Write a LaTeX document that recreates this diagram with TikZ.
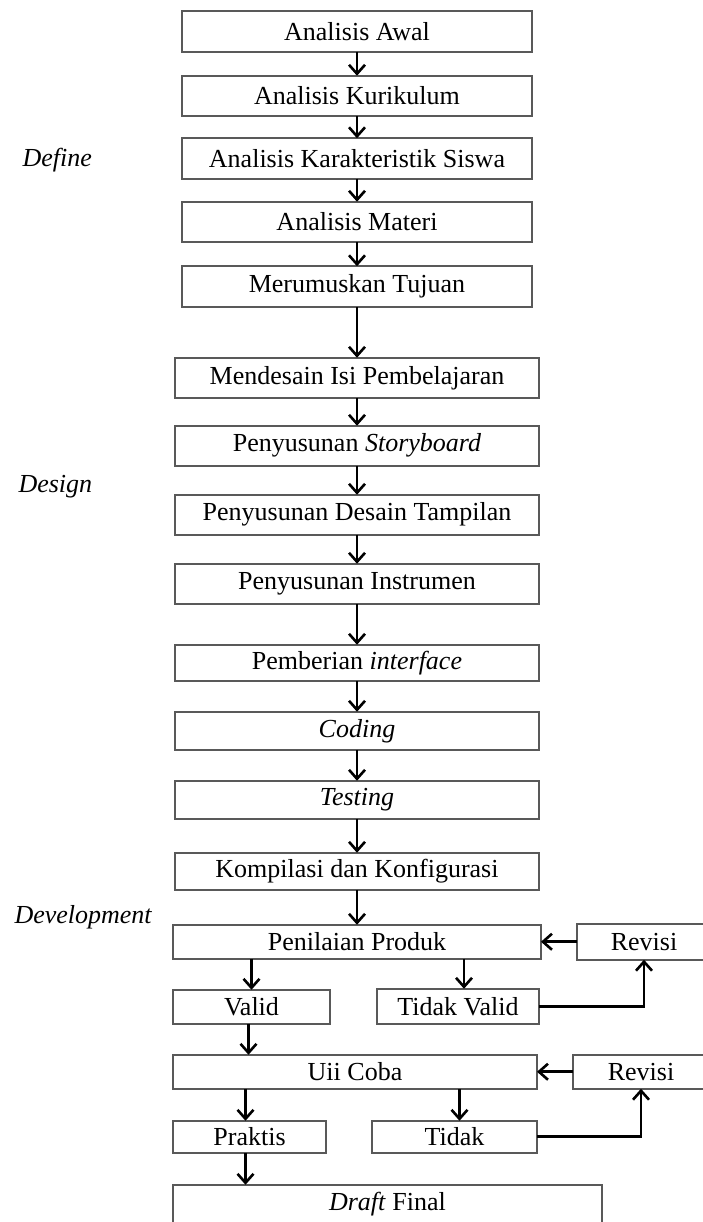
\documentclass[tikz,border=0pt]{standalone}
\usepackage{fontspec}
\setmainfont{Liberation Serif}
\usetikzlibrary{
  positioning,
  arrows.meta
}
\tikzset{
  >={Straight Barb[length=9pt,width=16pt]},
  every node/.style={font=\fontsize{26}{30}\selectfont},
  box/.style={draw=black!65, line width=1.6pt, inner sep=0pt, outer sep=0pt},
  defbox/.style={box, minimum width=350pt, minimum height=40.5pt},
  mainbox/.style={box, minimum width=364pt, minimum height=40pt},
  phase/.style={anchor=west, font=\fontsize{26}{30}\selectfont\itshape},
  flow/.style={->, line width=2.6pt}
}

\begin{document}
\begin{tikzpicture}[x=1pt, y=-1pt]
    \useasboundingbox (0,0) rectangle (702,1222);
    % define
    \node[defbox] (awal) at (357,31.5) {Analisis Awal};
    \node[defbox, below=24pt of awal] (kurikulum) {Analisis Kurikulum};
    \node[defbox, below=22pt of kurikulum] (karakteristik) {Analisis Karakteristik Siswa};
    \node[defbox, below=23pt of karakteristik] (materi) {Analisis Materi};
    \node[defbox, below=24pt of materi] (tujuan) {Merumuskan Tujuan};
    % design
    \node[mainbox, below=51pt of tujuan] (isi) {Mendesain Isi Pembelajaran};
    \node[mainbox, below=28pt of isi] (storyboard) {Penyusunan \textit{Storyboard}};
    \node[mainbox, below=29pt of storyboard] (tampilan) {Penyusunan Desain Tampilan};
    \node[mainbox, below=29pt of tampilan] (instrumen) {Penyusunan Instrumen};
    % development
    \node[mainbox, minimum height=36pt, below=41pt of instrumen] (interface) {Pemberian \textit{interface}};
    \node[mainbox, minimum height=38pt, below=31pt of interface] (coding) {\textit{Coding}};
    \node[mainbox, minimum height=38pt, below=31pt of coding] (testing) {\textit{Testing}};
    \node[mainbox, minimum height=37pt, below=34pt of testing] (kompilasi) {Kompilasi dan Konfigurasi};
    \node[mainbox, minimum width=368pt, minimum height=34pt, below=35pt of kompilasi] (penilaian) {Penilaian Produk};
    \node[box, minimum width=134pt, minimum height=36pt, right=36pt of penilaian] (revisiA) {Revisi};
    \node[box, minimum width=157pt, minimum height=34pt, below right=31pt and 0pt of penilaian.south west] (valid) {Valid};
    \node[box, minimum width=162pt, minimum height=35pt, below left=30pt and 2pt of penilaian.south east] (tidakvalid) {Tidak Valid};
    \node[mainbox, minimum height=34pt, below right=31pt and 0pt of valid.south west] (uji) {Uii Coba};
    \node[box, minimum width=136pt, minimum height=34pt, right=36pt of uji] (revisiB) {Revisi};
    \node[box, minimum width=153pt, minimum height=32pt, below right=32pt and 0pt of uji.south west] (praktis) {Praktis};
    \node[box, minimum width=165pt, minimum height=32pt, below left=32pt and 0pt of uji.south east] (tidak) {Tidak};
    \node[box, minimum width=429pt, minimum height=38pt, below right=32pt and 0pt of praktis.south west] (draft) {\textit{Draft} Final};

    \node[phase] (define) at (19,160) {Define};
    \node[phase] (design) at (15,487) {Design};
    \node[phase] (development) at (11,917) {Development};

    \draw[flow] (awal) -- (kurikulum);
    \draw[flow] (kurikulum) -- (karakteristik);
    \draw[flow] (karakteristik) -- (materi);
    \draw[flow] (materi) -- (tujuan);
    \draw[flow] (tujuan) -- (tujuan |- isi.north);
    \draw[flow] (isi) -- (storyboard);
    \draw[flow] (storyboard) -- (tampilan);
    \draw[flow] (tampilan) -- (instrumen);
    \draw[flow] (instrumen) -- (interface);
    \draw[flow] (interface) -- (coding);
    \draw[flow] (coding) -- (testing);
    \draw[flow] (testing) -- (kompilasi);
    \draw[flow] (kompilasi) -- (kompilasi |- penilaian.north);
    \draw[flow] (penilaian.south -| valid) -- (valid);
    \draw[flow] ([xshift=6pt]penilaian.south -| tidakvalid) -- ([xshift=6pt]tidakvalid.north);
    \draw[flow] (tidakvalid.east) -| (revisiA.south);
    \draw[flow] (revisiA) -- (penilaian);
    \draw[flow] ([xshift=-3pt]valid.south) -- ([xshift=-3pt]valid.south |- uji.north);
    \draw[flow] ([xshift=-4pt]uji.south -| praktis) -- ([xshift=-4pt]praktis.north);
    \draw[flow] ([xshift=5pt]uji.south -| tidak) -- ([xshift=5pt]tidak.north);
    \draw[flow] (tidak.east) -| (revisiB.south);
    \draw[flow] (revisiB) -- (uji);
    \draw[flow] ([xshift=-4pt]praktis.south) -- ([xshift=-4pt]praktis.south |- draft.north);
\end{tikzpicture}
\end{document}
